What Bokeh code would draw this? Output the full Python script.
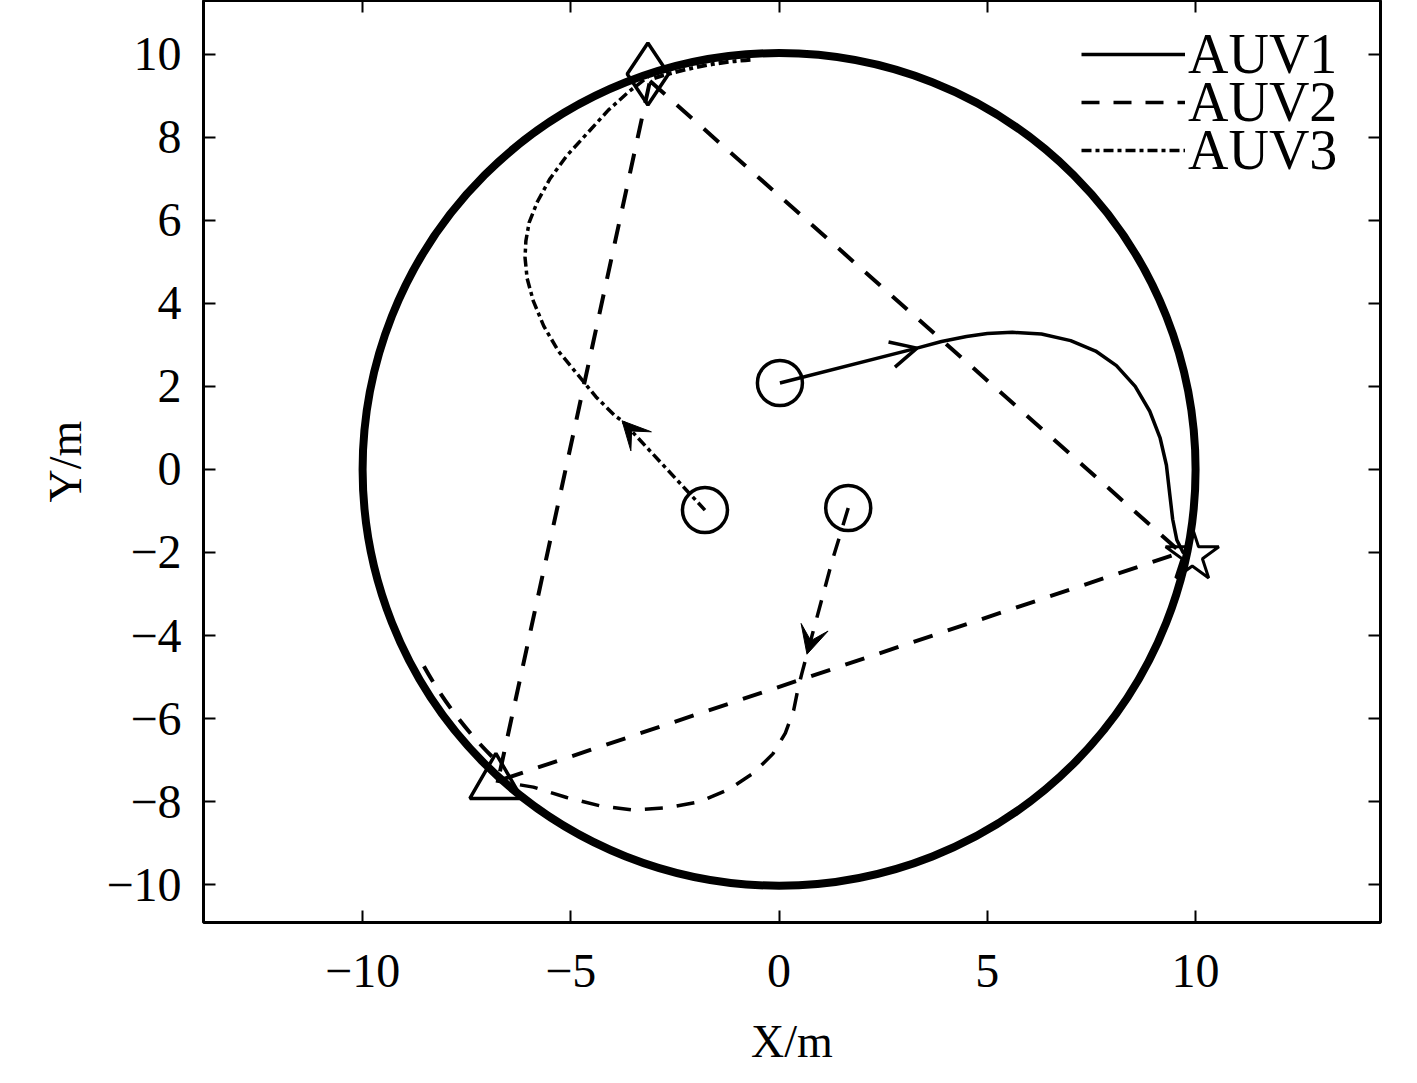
import numpy as np
from bokeh.plotting import figure
from bokeh.models import (Range1d, FixedTicker, LinearAxis, Arrow, VeeHead, OpenHead,
                          Legend, LegendItem, CustomLabelingPolicy)
from bokeh.embed import file_html
from bokeh.resources import INLINE

# ---------------- data ----------------
x_ticks = [-10, -5, 0, 5, 10]
y_ticks = [-10, -8, -6, -4, -2, 0, 2, 4, 6, 8, 10]

# formation circle
circle_cx = [0.0]
circle_cy = [0.0]
circle_r = [10.0]

# start positions
start_x = [0.02, 1.66, -1.78]
start_y = [2.08, -0.93, -0.98]

# AUV1 trajectory (solid)
auv1_x = [0.02, 3.31, 3.9, 4.5, 5.0, 5.6, 6.3, 7.0, 7.6, 8.1, 8.55, 8.9, 9.15, 9.3, 9.38, 9.45, 9.55, 9.7, 9.85]
auv1_y = [2.08, 2.92, 3.08, 3.20, 3.27, 3.30, 3.26, 3.10, 2.85, 2.50, 2.00, 1.40, 0.75, 0.10, -0.60, -1.20, -1.70, -2.00, -2.07]

# AUV2 trajectory (dashed)
auv2_x = [1.66, 1.27, 0.67, 0.55, 0.45, 0.35, 0.15, -0.15, -0.6, -1.2, -1.9, -2.7, -3.5, -4.3, -5.1, -5.9, -6.8]
auv2_y = [-0.93, -2.22, -4.45, -4.90, -5.30, -5.80, -6.35, -6.85, -7.30, -7.70, -8.00, -8.15, -8.20, -8.10, -7.90, -7.65, -7.50]

# AUV3 trajectory (dash-dot)
auv3_x = [-1.78, -3.77, -3.94, -4.4, -4.85, -5.3, -5.65, -5.9, -6.05, -6.1, -6.08, -6.0, -5.8, -5.5, -5.1, -4.6, -4.1, -3.6, -3.15]
auv3_y = [-0.98, 1.17, 1.29, 1.75, 2.30, 2.85, 3.45, 4.05, 4.60, 5.10, 5.50, 5.95, 6.45, 7.00, 7.55, 8.10, 8.65, 9.10, 9.45]

# trails hugging the circle (angles in degrees, radius)
auv2_trail = dict(r=9.75, a0=209.0, a1=225.0)
auv3_trail = dict(r=9.86, a0=94.0, a1=108.0)

# formation triangle (dashed straight lines)
form_x = [-3.10, 9.65, -6.75, -3.10]
form_y = [9.35, -2.00, -7.50, 9.35]

# target markers
diamond_xy = (-3.15, 9.52)
star_xy = (9.92, -2.07)
triangle_xy = (-6.80, -7.56)

# arrow (start index, tip index) along each trajectory
arrow1 = (0, 1)
arrow2 = (0, 2)
arrow3 = (0, 1)

legend_labels = ["AUV1", "AUV2", "AUV3"]

FONT = "Liberation Serif"

p = figure(width=1409, height=1069,
           x_range=Range1d(-13.82, 14.44), y_range=Range1d(-10.91, 11.29),
           output_backend="svg", toolbar_location=None,
           min_border_left=203, min_border_right=29, min_border_top=0, min_border_bottom=139,
           background_fill_color="white", border_fill_color="white")
p.grid.visible = False
p.outline_line_color = "black"
p.outline_line_width = 3
p.outline_line_alpha = 1.0

no_labels = CustomLabelingPolicy(code="for (const i of Array.from(indices)) { indices.unset(i) } return indices")
p.add_layout(LinearAxis(major_label_policy=no_labels, major_label_text_font_size="0px",
                        major_label_standoff=0), "above")
p.add_layout(LinearAxis(major_label_policy=no_labels, major_label_text_font_size="0px",
                        major_label_standoff=0), "right")

for ax in p.xaxis:
    ax.ticker = FixedTicker(ticks=x_ticks)
    ax.major_label_overrides = {t: (("\u2212" + str(abs(t))) if t < 0 else str(t)) for t in x_ticks}
for ax in p.yaxis:
    ax.ticker = FixedTicker(ticks=y_ticks)
    ax.major_label_overrides = {t: (("\u2212" + str(abs(t))) if t < 0 else str(t)) for t in y_ticks}

for ax in list(p.xaxis) + list(p.yaxis):
    ax.axis_line_color = None
    ax.major_tick_in = 12
    ax.major_tick_out = 0
    ax.major_tick_line_width = 2
    ax.major_tick_line_color = "black"
    ax.minor_tick_line_color = None
    ax.major_label_text_font = FONT
    ax.major_label_text_color = "black"

for ax in (p.below[0], p.left[0]):
    ax.major_label_text_font_size = "48px"
p.below[0].major_label_standoff = 32
p.left[0].major_label_standoff = 22

p.below[0].axis_label = "X/m"
p.left[0].axis_label = "Y/m"
for ax in (p.below[0], p.left[0]):
    ax.axis_label_text_font = FONT
    ax.axis_label_text_font_size = "46px"
    ax.axis_label_text_font_style = "normal"
    ax.axis_label_text_color = "black"
p.below[0].axis_label_standoff = 26
p.left[0].axis_label_standoff = 12

# formation circle (thick)
p.circle(x=circle_cx, y=circle_cy, radius=circle_r, fill_color=None,
         line_color="black", line_width=8)

# trails near the circle
p.arc(x=circle_cx, y=circle_cy, radius=auv2_trail["r"],
      start_angle=np.radians(auv2_trail["a0"]), end_angle=np.radians(auv2_trail["a1"]),
      line_color="black", line_width=4, line_dash="18 14")
p.arc(x=circle_cx, y=circle_cy, radius=auv3_trail["r"],
      start_angle=np.radians(auv3_trail["a0"]), end_angle=np.radians(auv3_trail["a1"]),
      line_color="black", line_width=4, line_dash="10 4 4 4")

# formation straight lines
p.line(form_x, form_y, line_color="black", line_width=4, line_dash="20 16")

# trajectories
r1 = p.line(auv1_x, auv1_y, line_color="black", line_width=3.5)
r2 = p.line(auv2_x, auv2_y, line_color="black", line_width=3.5, line_dash="18 14")
r3 = p.line(auv3_x, auv3_y, line_color="black", line_width=3.5, line_dash="10 4 4 4")

# arrows
def add_arrow(xs, ys, idx, head):
    i0, i1 = idx
    p.add_layout(Arrow(end=head, x_start=xs[i0], y_start=ys[i0], x_end=xs[i1], y_end=ys[i1],
                       line_alpha=0, line_width=0))

add_arrow(auv1_x, auv1_y, arrow1, OpenHead(size=26, line_width=3.5, line_color="black"))
add_arrow(auv2_x, auv2_y, arrow2, VeeHead(size=28, fill_color="black", line_color="black"))
add_arrow(auv3_x, auv3_y, arrow3, VeeHead(size=28, fill_color="black", line_color="black"))

# start markers
p.scatter(start_x, start_y, marker="circle", size=45, fill_color=None,
          line_color="black", line_width=3.5)
# target markers
p.scatter([diamond_xy[0]], [diamond_xy[1]], marker="diamond", size=62, fill_color=None,
          line_color="black", line_width=3.5)
p.scatter([star_xy[0]], [star_xy[1]], marker="star", size=56, fill_color=None,
          line_color="black", line_width=3)
p.scatter([triangle_xy[0]], [triangle_xy[1]], marker="triangle", size=52, fill_color=None,
          line_color="black", line_width=3.5)

# legend: one single-item legend per entry so the rows can sit close together
legend_x = 878
legend_y = [828, 780, 732]
for lab, rend, ly in zip(legend_labels, [r1, r2, r3], legend_y):
    lg = Legend(items=[LegendItem(label=lab, renderers=[rend])], location=(legend_x, ly))
    lg.background_fill_alpha = 0
    lg.border_line_color = None
    lg.label_text_font = FONT
    lg.label_text_font_size = "56px"
    lg.label_text_color = "black"
    lg.glyph_width = 104
    lg.glyph_height = 80
    lg.label_height = 80
    lg.label_standoff = 3
    lg.padding = 10
    lg.margin = 0
    p.add_layout(lg)

open("out.html", "w").write(file_html(p, INLINE))
